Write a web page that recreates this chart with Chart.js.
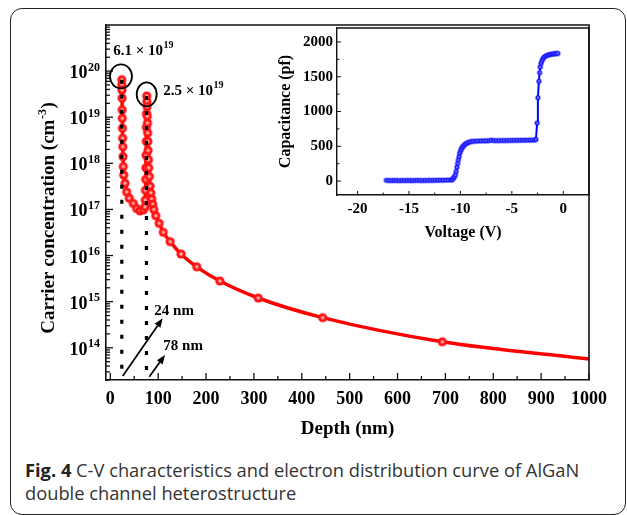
<!DOCTYPE html>
<html>
<head>
<meta charset="utf-8">
<script src="https://cdn.jsdelivr.net/npm/chart.js@4.4.1/dist/chart.umd.min.js"></script>
<style>
  html, body { margin: 0; padding: 0; background: #fff; }
  #wrap { position: relative; width: 627px; height: 515px; overflow: hidden; }
  #frame { position: absolute; left: 10px; top: 8px; width: 616px; height: 507px; box-sizing: border-box;
           border: 1.6px solid #222; border-radius: 12px; }
  #main { position: absolute; left: 0; top: 0; }
  #inset { position: absolute; left: 262px; top: 15px; }
  #caption { position: absolute; left: 25px; top: 458px; font: 18.3px "Open Sans", sans-serif; line-height: 23px;
             color: #333; white-space: nowrap; }
  #caption b { color: #222; }
</style>
</head>
<body>
<div id="wrap">
  <div id="frame"></div>
  <canvas id="main" width="627" height="450"></canvas>
  <canvas id="inset" width="338" height="238"></canvas>
  <div id="caption"><b>Fig. 4</b> C-V characteristics and electron distribution curve of AlGaN<br>double channel heterostructure</div>
</div>
<script>
// Carrier profile (depth in nm, concentration in cm^-3)
var depthNm = [24.0, 24.2, 24.4, 24.6, 24.8, 25.0, 25.3, 25.6, 26.0, 26.5,
               27.1, 28.0, 30.7, 34.2, 39.7, 48, 55, 62, 69, 72.5,
               73.0, 73.5, 74.0, 74.4, 74.8, 75.1, 75.4, 75.7, 76.0, 76.4,
               76.8, 77.2, 77.6, 78.0, 78.5, 79.0, 79.6, 80.3, 81.5, 83,
               84.5, 86.5, 88.5, 91, 95, 102, 110.7, 125, 147.7, 180.5,
               229, 309, 443.7, 693.5, 1000];
var carrierConc = [6.5e19, 5.0e19, 3.9e19, 2.6e19, 1.45e19, 9.5e18, 5.8e18, 3.5e18, 2.3e18, 1.4e18,
                   8.5e17, 5.6e17, 3.7e17, 2.4e17, 1.75e17, 1.35e17, 1.05e17, 9.3e16, 9.8e16, 1.15e17,
                   1.6e17, 2.6e17, 4.5e17, 8e17, 1.5e18, 3e18, 6e18, 1.2e19, 2.9e19, 2.2e19,
                   1.7e19, 1.05e19, 7.5e18, 4.6e18, 3.0e18, 1.9e18, 1.2e18, 8e17, 5.2e17, 3.2e17,
                   2.3e17, 1.7e17, 1.3e17, 1.0e17, 7.3e16, 5e16, 3.2e16, 2.0e16, 1.08e16, 5.7e15,
                   2.8e15, 1.2e15, 4.5e14, 1.35e14, 5.7e13];

// C-V curve of the inset (V, pf)
var voltage = [-17.2, -16.95, -16.7, -16.45, -16.2, -15.95, -15.7, -15.45, -15.2, -14.95,
               -14.7, -14.45, -14.2, -13.95, -13.7, -13.45, -13.2, -12.95, -12.7, -12.45,
               -12.2, -11.95, -11.7, -11.45, -11.2, -10.95,
               -10.8, -10.7, -10.6, -10.5, -10.42, -10.34, -10.27, -10.2, -10.13, -10.06,
               -9.98, -9.9, -9.8, -9.7, -9.58, -9.45, -9.3, -9.15,
               -8.95, -8.75, -8.5, -8.25, -8.0, -7.75, -7.5, -7.25, -7.0, -6.75,
               -6.5, -6.25, -6.0, -5.75, -5.5, -5.25, -5.0, -4.75, -4.5, -4.25,
               -4.0, -3.75, -3.5, -3.25, -3.0, -2.8, -2.66,
               -2.54, -2.47, -2.37, -2.3, -2.24, -2.17, -2.08, -1.98, -1.86, -1.72,
               -1.58, -1.43, -1.28, -1.13, -0.98, -0.83, -0.68, -0.53];
var capacitance = [12, 10, 9, 11, 10, 8, 10, 9, 11, 10,
                   9, 10, 12, 10, 9, 11, 10, 12, 11, 13,
                   12, 14, 13, 15, 16, 18,
                   20, 40, 60, 90, 140, 200, 255, 306, 355, 405,
                   440, 465, 490, 510, 527, 540, 552, 560,
                   570, 573, 575, 577, 578, 579, 580, 581, 590, 583,
                   582, 583, 584, 584, 585, 585, 586, 586, 587, 587,
                   588, 588, 589, 589, 590, 592, 600,
                   837, 1200, 1435, 1560, 1640, 1690, 1730, 1760, 1782, 1798,
                   1808, 1815, 1821, 1825, 1829, 1832, 1834, 1836];

// axis ticks
var depthTicks = [0, 100, 200, 300, 400, 500, 600, 700, 800, 900, 1000];
var concExponents = [14, 15, 16, 17, 18, 19, 20];
var voltTicks = [-20, -15, -10, -5, 0];
var capTicks = [0, 500, 1000, 1500, 2000];

// annotations (data coordinates)
var peakDepths = [24, 75.5];
var peakConc = [6.5e19, 2.9e19];
var peakRings = [{ x: 22.3, y: 7.7e19 }, { x: 76, y: 3.14e19 }];
var peakLabels = [
  { text: '6.1 \u00d7 10', exp: '19', x: 6.2, y: 2.23e20 },
  { text: '2.5 \u00d7 10', exp: '19', x: 110.7, y: 3.03e19 }
];
var widthArrows = [
  { label: '24 nm', from: [26, 2.43e13], to: [109.4, 4.35e14], at: [92, 5.1e14] },
  { label: '78 nm', from: [81.5, 2.35e13], to: [114.3, 6.95e13], at: [110.7, 8.9e13] }
];

var SERIF = '"Liberation Serif", "Times New Roman", serif';

function ball(r, fill, light) {
  var c = document.createElement('canvas');
  var s = Math.ceil(r * 2 + 2);
  c.width = c.height = s;
  var g = c.getContext('2d');
  g.fillStyle = fill;
  g.beginPath(); g.arc(s / 2, s / 2, r, 0, Math.PI * 2); g.fill();
  g.fillStyle = light;
  g.beginPath(); g.arc(s / 2, s / 2, r * 0.38, 0, Math.PI * 2); g.fill();
  return c;
}

function arrow(ctx, x1, y1, x2, y2) {
  var ang = Math.atan2(y2 - y1, x2 - x1), head = 9, half = 3.5;
  var bx = x2 - head * Math.cos(ang), by = y2 - head * Math.sin(ang);
  ctx.beginPath(); ctx.moveTo(x1, y1); ctx.lineTo(bx, by); ctx.stroke();
  ctx.beginPath();
  ctx.moveTo(x2, y2);
  ctx.lineTo(bx - half * Math.sin(ang), by + half * Math.cos(ang));
  ctx.lineTo(bx + half * Math.sin(ang), by - half * Math.cos(ang));
  ctx.closePath(); ctx.fill();
}

function supText(ctx, base, exp, x, y, size, expSize, rise) {
  ctx.font = 'bold ' + size + 'px ' + SERIF;
  ctx.fillText(base, x, y);
  var w = ctx.measureText(base).width;
  ctx.font = 'bold ' + expSize + 'px ' + SERIF;
  ctx.fillText(exp, x + w + 0.5, y - rise);
}

function line(ctx, x1, y1, x2, y2) {
  ctx.beginPath(); ctx.moveTo(x1, y1); ctx.lineTo(x2, y2); ctx.stroke();
}

function fixedTicks(values) {
  return function(s) { s.ticks = values.map(function(v) { return { value: v }; }); };
}

// Frame, inward ticks, log labels and annotations of the main plot
var mainExtras = {
  id: 'mainExtras',
  afterDraw: function(chart) {
    var ctx = chart.ctx, a = chart.chartArea, xs = chart.scales.x, ys = chart.scales.y;
    ctx.save();
    ctx.strokeStyle = '#111';
    ctx.fillStyle = '#000';
    ctx.lineWidth = 1.6;
    ctx.beginPath(); ctx.moveTo(a.left, a.top); ctx.lineTo(a.right, a.top); ctx.lineTo(a.right, a.bottom); ctx.stroke();

    ctx.lineWidth = 1.3;
    depthTicks.forEach(function(v, i) {
      var px = xs.getPixelForValue(v);
      line(ctx, px, a.bottom, px, a.bottom - 7);
      if (i < depthTicks.length - 1) {
        var pm = xs.getPixelForValue((v + depthTicks[i + 1]) / 2);
        line(ctx, pm, a.bottom, pm, a.bottom - 4);
      }
    });
    for (var e = 13; e <= 20; e++) {
      for (var m = 1; m <= 9; m++) {
        var v = m * Math.pow(10, e);
        if (v < ys.min || v > ys.max) continue;
        var py = ys.getPixelForValue(v);
        line(ctx, a.left, py, a.left + (m === 1 ? 7 : 4), py);
      }
    }

    // y tick labels 10^n
    ctx.textAlign = 'left';
    ctx.textBaseline = 'alphabetic';
    concExponents.forEach(function(n) {
      var py = ys.getPixelForValue(Math.pow(10, n));
      ctx.font = 'bold 18px ' + SERIF;
      var wb = ctx.measureText('10').width;
      ctx.font = 'bold 12px ' + SERIF;
      var we = ctx.measureText(String(n)).width;
      supText(ctx, '10', String(n), 100 - we - wb - 0.5, py + 7, 18, 12, 7.5);
    });

    // y title with superscript
    ctx.save();
    ctx.translate(53.5, 218);
    ctx.rotate(-Math.PI / 2);
    var t1 = 'Carrier concentration (cm', t2 = '-3', t3 = ')';
    ctx.font = 'bold 19px ' + SERIF;
    var w1 = ctx.measureText(t1).width, w3 = ctx.measureText(t3).width;
    ctx.font = 'bold 12px ' + SERIF;
    var w2 = ctx.measureText(t2).width;
    var x0 = -(w1 + w2 + w3 + 1) / 2;
    ctx.font = 'bold 19px ' + SERIF;
    ctx.fillText(t1, x0, 0);
    ctx.font = 'bold 12px ' + SERIF;
    ctx.fillText(t2, x0 + w1 + 0.5, -8);
    ctx.font = 'bold 19px ' + SERIF;
    ctx.fillText(t3, x0 + w1 + w2 + 1, 0);
    ctx.restore();

    // rings around the peaks
    ctx.lineWidth = 1.8;
    ctx.strokeStyle = '#000';
    peakRings.forEach(function(r, i) {
      ctx.beginPath();
      ctx.ellipse(xs.getPixelForValue(r.x), ys.getPixelForValue(r.y), i === 0 ? 11 : 10, 12, 0, 0, Math.PI * 2);
      ctx.stroke();
    });
    peakLabels.forEach(function(p) {
      supText(ctx, p.text, p.exp, xs.getPixelForValue(p.x), ys.getPixelForValue(p.y), 15, 10, 7);
    });

    // arrows for the channel positions
    ctx.lineWidth = 1.7;
    widthArrows.forEach(function(w) {
      arrow(ctx, xs.getPixelForValue(w.from[0]), ys.getPixelForValue(w.from[1]),
                 xs.getPixelForValue(w.to[0]), ys.getPixelForValue(w.to[1]));
      ctx.font = 'bold 15px ' + SERIF;
      ctx.fillText(w.label, xs.getPixelForValue(w.at[0]), ys.getPixelForValue(w.at[1]));
    });
    ctx.restore();
  }
};

var insetExtras = {
  id: 'insetExtras',
  afterDraw: function(chart) {
    var ctx = chart.ctx, a = chart.chartArea, xs = chart.scales.x, ys = chart.scales.y;
    ctx.save();
    ctx.strokeStyle = '#111';
    ctx.lineWidth = 1.4;
    ctx.beginPath(); ctx.moveTo(a.left, a.top); ctx.lineTo(a.right, a.top); ctx.lineTo(a.right, a.bottom); ctx.stroke();
    ctx.lineWidth = 1;
    voltTicks.forEach(function(v, i) {
      var px = xs.getPixelForValue(v);
      line(ctx, px, a.bottom, px, a.bottom - 4);
      if (i < voltTicks.length - 1) {
        var pm = xs.getPixelForValue((v + voltTicks[i + 1]) / 2);
        line(ctx, pm, a.bottom, pm, a.bottom - 2.5);
      }
    });
    capTicks.forEach(function(v, i) {
      var py = ys.getPixelForValue(v);
      line(ctx, a.left, py, a.left + 4, py);
      if (i < capTicks.length - 1) {
        var pm = ys.getPixelForValue((v + capTicks[i + 1]) / 2);
        line(ctx, a.left, pm, a.left + 2.5, pm);
      }
    });
    ctx.restore();
  }
};

var redBall = ball(4.6, '#ff1414', '#ffb0b0');
var blueBall = ball(2.6, '#1a1aff', '#8c8cff');

new Chart(document.getElementById('main'), {
  type: 'line',
  data: {
    datasets: [
      {
        data: [{ x: peakDepths[0], y: peakConc[0] }, { x: peakDepths[0], y: 2e13 }],
        borderColor: '#000', borderWidth: 3.2, borderDash: [4, 11], pointRadius: 0, order: 0
      },
      {
        data: [{ x: peakDepths[1], y: peakConc[1] }, { x: peakDepths[1], y: 2e13 }],
        borderColor: '#000', borderWidth: 3.2, borderDash: [4, 11], pointRadius: 0, order: 0
      },
      {
        data: depthNm.map(function(d, i) { return { x: d, y: carrierConc[i] }; }),
        borderColor: '#ff0000',
        borderWidth: 3.5,
        cubicInterpolationMode: 'monotone',
        pointStyle: redBall,
        pointRadius: function(c) { return c.dataIndex === depthNm.length - 1 ? 0 : 4.6; },
        order: 1
      }
    ]
  },
  options: {
    responsive: false,
    animation: false,
    devicePixelRatio: 1,
    layout: { padding: { left: 0, top: 25, right: 38, bottom: 0 } },
    plugins: { legend: { display: false }, tooltip: { enabled: false } },
    scales: {
      x: {
        type: 'linear', min: -9, max: 1000,
        grid: { display: false, drawTicks: false },
        border: { display: true, color: '#111', width: 1.6 },
        ticks: { maxRotation: 0, autoSkip: false, padding: 9, color: '#000',
                 font: { family: SERIF, weight: 'bold', size: 18 },
                 callback: function(v) { return String(v); } },
        afterBuildTicks: fixedTicks(depthTicks),
        title: { display: true, text: 'Depth (nm)', color: '#000', padding: { top: 0, bottom: 11 },
                 font: { family: SERIF, weight: 'bold', size: 19, lineHeight: 1 } },
        afterFit: function(s) { s.height = 70; }
      },
      y: {
        type: 'logarithmic', min: 2e13, max: 1e21,
        grid: { display: false, drawTicks: false },
        border: { display: true, color: '#111', width: 1.6 },
        ticks: { display: false },
        afterFit: function(s) { s.width = 106; }
      }
    }
  },
  plugins: [mainExtras]
});

new Chart(document.getElementById('inset'), {
  type: 'line',
  data: {
    datasets: [{
      data: voltage.map(function(v, i) { return { x: v, y: capacitance[i] }; }),
      borderColor: '#0000ff',
      borderWidth: 2,
      pointStyle: blueBall,
      pointRadius: 2.6
    }]
  },
  options: {
    responsive: false,
    animation: false,
    devicePixelRatio: 1,
    layout: { padding: { left: 0, top: 10, right: 11, bottom: 0 } },
    plugins: { legend: { display: false }, tooltip: { enabled: false } },
    scales: {
      x: {
        type: 'linear', min: -22, max: 2.5,
        grid: { display: false, drawTicks: false },
        border: { display: true, color: '#111', width: 1.4 },
        ticks: { maxRotation: 0, autoSkip: false, padding: 5, color: '#000',
                 font: { family: SERIF, weight: 'bold', size: 15 },
                 callback: function(v) { return String(v); } },
        afterBuildTicks: fixedTicks(voltTicks),
        title: { display: true, text: 'Voltage (V)', color: '#000', padding: { top: 0, bottom: 12 },
                 font: { family: SERIF, weight: 'bold', size: 16, lineHeight: 1 } },
        afterFit: function(s) { s.height = 58; }
      },
      y: {
        type: 'linear', min: -200, max: 2200,
        grid: { display: false, drawTicks: false },
        border: { display: true, color: '#111', width: 1.4 },
        ticks: { padding: 4, color: '#000', autoSkip: false,
                 font: { family: SERIF, weight: 'bold', size: 15 },
                 callback: function(v) { return String(v); } },
        afterBuildTicks: fixedTicks(capTicks),
        title: { display: true, text: 'Capacitance (pf)', color: '#000', padding: { top: 16, bottom: 0 },
                 font: { family: SERIF, weight: 'bold', size: 16, lineHeight: 1 } },
        afterFit: function(s) { s.width = 75; }
      }
    }
  },
  plugins: [insetExtras]
});
</script>
</body>
</html>
